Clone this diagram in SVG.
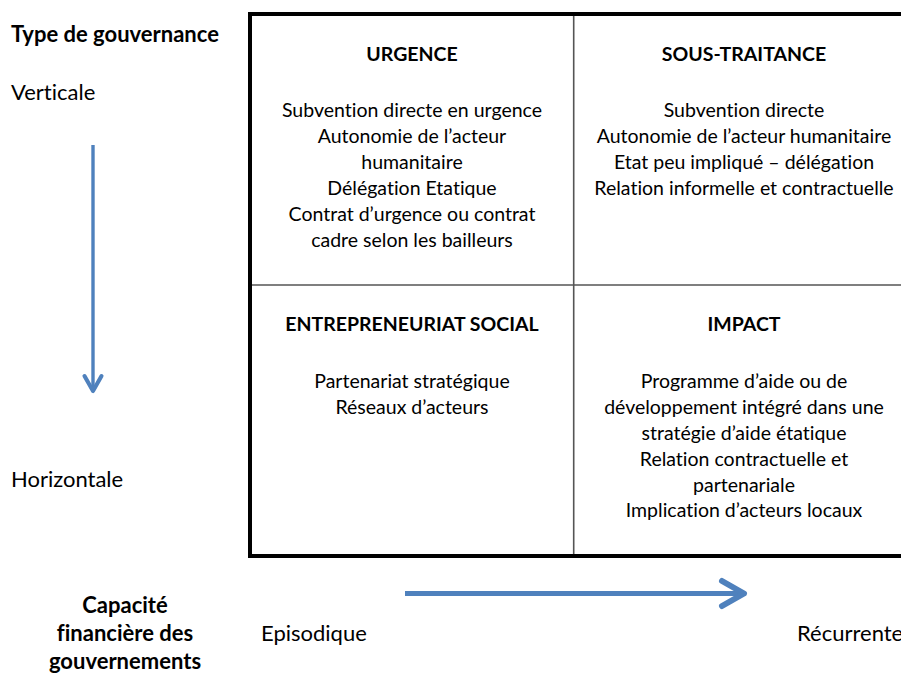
<svg xmlns="http://www.w3.org/2000/svg" width="901" height="673" viewBox="0 0 901 673">
<style>
text{font-family:Lato,"Liberation Sans","DejaVu Sans",sans-serif;fill:#000;font-variant-ligatures:none;font-feature-settings:"liga" 0,"dlig" 0}
.cell{font-size:19.5px;text-anchor:middle}
.head{font-size:19.5px;font-weight:bold;text-anchor:middle}
.lab{font-size:22px}
.labb{font-size:22px;font-weight:bold}
.mid{text-anchor:middle}
.outer{fill:none;stroke:#000;stroke-width:4}
.inner{stroke:#555;stroke-width:1.6}
.arrow{fill:none;stroke:#4F81BD}
</style>
<defs>
<marker id="open" markerUnits="strokeWidth" viewBox="-6 -4 8 8" markerWidth="8" markerHeight="8" refX="0" refY="0" orient="auto" overflow="visible">
<path d="M-4.4,-2.5 L0,0 L-4.4,2.5" fill="none" stroke="#4F81BD" stroke-width="1.2" stroke-linecap="round" stroke-linejoin="round"/>
</marker>
</defs>
<rect width="901" height="673" fill="#fff"/>

<g id="grid">
<rect class="outer" x="250" y="14" width="664" height="542"/>
<line class="inner" x1="573.7" y1="16" x2="573.7" y2="554"/>
<line class="inner" x1="252" y1="285" x2="912" y2="285"/>
</g>

<g id="urgence">
<text class="head" x="412" y="61">URGENCE</text>
<text class="cell" x="412" y="117">Subvention directe en urgence</text>
<text class="cell" x="412" y="143">Autonomie de l’acteur</text>
<text class="cell" x="412" y="169">humanitaire</text>
<text class="cell" x="412" y="195">Délégation Etatique</text>
<text class="cell" x="412" y="221">Contrat d’urgence ou contrat</text>
<text class="cell" x="412" y="247">cadre selon les bailleurs</text>
</g>

<g id="sous-traitance">
<text class="head" x="744" y="61">SOUS-TRAITANCE</text>
<text class="cell" x="744" y="117">Subvention directe</text>
<text class="cell" x="744" y="143">Autonomie de l’acteur humanitaire</text>
<text class="cell" x="744" y="169">Etat peu impliqué – délégation</text>
<text class="cell" x="744" y="195">Relation informelle et contractuelle</text>
</g>

<g id="entrepreneuriat-social">
<text class="head" x="412" y="331">ENTREPRENEURIAT SOCIAL</text>
<text class="cell" x="412" y="388">Partenariat stratégique</text>
<text class="cell" x="412" y="414">Réseaux d’acteurs</text>
</g>

<g id="impact">
<text class="head" x="744" y="331">IMPACT</text>
<text class="cell" x="744" y="388">Programme d’aide ou de</text>
<text class="cell" x="744" y="414">développement intégré dans une</text>
<text class="cell" x="744" y="440">stratégie d’aide étatique</text>
<text class="cell" x="744" y="466">Relation contractuelle et</text>
<text class="cell" x="744" y="492">partenariale</text>
<text class="cell" x="744" y="517">Implication d’acteurs locaux</text>
</g>

<g id="axis-governance">
<text class="labb" x="11" y="42">Type de gouvernance</text>
<text class="lab" x="11" y="100">Verticale</text>
<text class="lab" x="11" y="487">Horizontale</text>
</g>

<g id="axis-capacity">
<text class="labb mid" x="125" y="613">Capacité</text>
<text class="labb mid" x="125" y="641">financière des</text>
<text class="labb mid" x="125" y="669">gouvernements</text>
<text class="lab" x="261" y="641">Episodique</text>
<text class="lab" x="797" y="641">Récurrente</text>
</g>

<g id="connectors">
<line class="arrow" x1="93" y1="145" x2="93" y2="391" stroke-width="3.4" marker-end="url(#open)"/>
<line class="arrow" x1="405" y1="593.5" x2="744" y2="593.5" stroke-width="5" marker-end="url(#open)"/>
</g>
</svg>
